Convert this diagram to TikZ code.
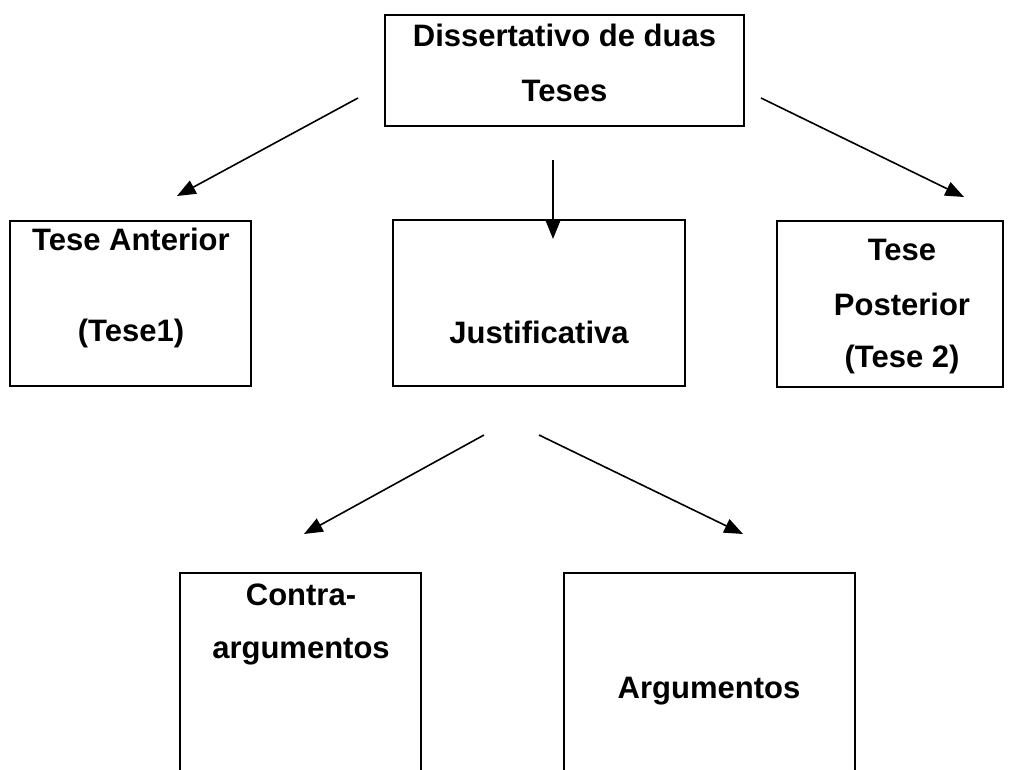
\documentclass[tikz,border=0pt]{standalone}
\usepackage{fontspec}
\setmainfont{Liberation Sans}
\usetikzlibrary{arrows.meta}
\begin{document}
\begin{tikzpicture}[x=0.75pt, y=-0.75pt, >={Triangle[length=14pt,width=11pt]},
    box/.style 2 args={draw, line width=1pt, inner sep=0pt, outer sep=0pt,
        minimum width={#1*0.75pt}, minimum height={#2*0.75pt}},
    txt/.style={anchor=base, inner sep=0pt, font=\fontsize{23.25pt}{41pt}\selectfont\bfseries},
    conn/.style={->, line width=1.2pt}]
\useasboundingbox (0,0) rectangle (1010,770);
\clip (0,0) rectangle (1010,770);
% caixas
\node[box={359}{111}] (diss) at (564.5,70.5) {};
\node[box={241}{165}] (ant) at (130.5,303.5) {};
\node[box={292}{166}] (just) at (539,303) {};
\node[box={226}{166}] (post) at (890,304) {};
\node[box={241}{240}] (contra) at (300.5,693) {};
\node[box={291}{240}] (arg) at (709.5,693) {};
% textos
\foreach \n/\t/\x/\y in {dissA/Dissertativo de duas/564.5/47, dissB/Teses/564.5/102,
    antA/Tese Anterior/131/250, antB/(Tese1)/131/341,
    justA/Justificativa/539/343,
    postA/Tese/902/260, postB/Posterior/902/315, postC/(Tese 2)/902/367,
    contraA/Contra-/301/605, contraB/argumentos/301/658,
    argA/Argumentos/709/698}
    \node[txt] (\n) at (\x,\y) {\t};
% setas
\coordinate (dissL) at (358,98);
\coordinate (dissM) at (553,160);
\coordinate (dissR) at (761,98);
\coordinate (antTop) at (177,196);
\coordinate (justTop) at (553,239);
\coordinate (postTop) at (964,197);
\coordinate (justL) at (484,435);
\coordinate (justR) at (539,435);
\coordinate (contraTop) at (304,534);
\coordinate (argTop) at (743,534);
\draw[conn] (dissL) -- (antTop);
\draw[conn] (dissM) -- (justTop);
\draw[conn] (dissR) -- (postTop);
\draw[conn] (justL) -- (contraTop);
\draw[conn] (justR) -- (argTop);
\end{tikzpicture}
\end{document}
